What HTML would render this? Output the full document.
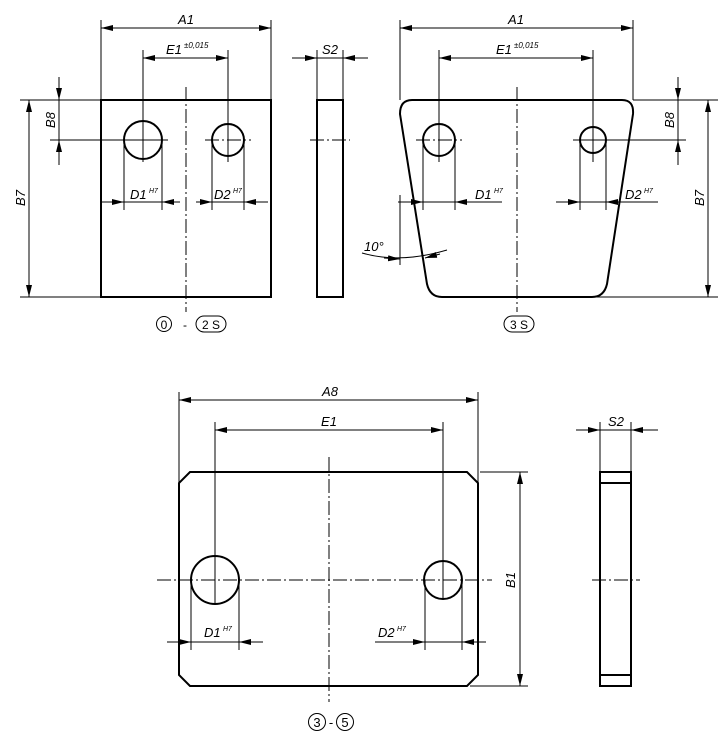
<!DOCTYPE html>
<html><head><meta charset="utf-8"><style>
html,body{margin:0;padding:0;background:#fff}
svg{display:block}
text{font-family:"Liberation Sans",sans-serif;font-style:italic;fill:#000}
.o{stroke:#000;stroke-width:2;fill:none}
.t{stroke:#000;stroke-width:1;fill:none}
.c{stroke:#000;stroke-width:1;fill:none;stroke-dasharray:14 3 2 3}
.n{font-style:normal}
</style></head><body>
<svg width="727" height="750" viewBox="0 0 727 750" xmlns="http://www.w3.org/2000/svg">
<defs>
<marker id="a" viewBox="0 0 12 6" refX="12" refY="3" markerWidth="12" markerHeight="6" markerUnits="userSpaceOnUse" orient="auto-start-reverse"><path d="M0,0 L12,3 L0,6 z" fill="#000"/></marker>
</defs>

<!-- ===== View 1 ===== -->
<rect x="101" y="100" width="170" height="197" class="o"/>
<circle cx="143" cy="140" r="19" class="o"/>
<circle cx="228" cy="140" r="16" class="o"/>
<line x1="186" y1="87" x2="186" y2="312" class="c"/>
<line x1="50" y1="140" x2="168" y2="140" class="t"/>
<line x1="205" y1="140" x2="251" y2="140" class="c"/>
<line x1="143" y1="50" x2="143" y2="162" class="t"/>
<line x1="228" y1="50" x2="228" y2="162" class="t"/>
<!-- A1 -->
<line x1="101" y1="20" x2="101" y2="100" class="t"/>
<line x1="271" y1="20" x2="271" y2="100" class="t"/>
<line x1="101" y1="28" x2="271" y2="28" class="t" marker-start="url(#a)" marker-end="url(#a)"/>
<text x="186" y="24" font-size="13" text-anchor="middle">A1</text>
<!-- E1 -->
<line x1="143" y1="58" x2="228" y2="58" class="t" marker-start="url(#a)" marker-end="url(#a)"/>
<text x="166" y="54" font-size="13">E1</text><text x="184" y="48" font-size="8">±0,015</text>
<!-- D1 D2 -->
<line x1="124" y1="140" x2="124" y2="210" class="t"/>
<line x1="162" y1="140" x2="162" y2="210" class="t"/>
<line x1="212" y1="140" x2="212" y2="210" class="t"/>
<line x1="244" y1="140" x2="244" y2="210" class="t"/>
<line x1="101" y1="202" x2="124" y2="202" class="t" marker-end="url(#a)"/>
<line x1="124" y1="202" x2="162" y2="202" class="t"/>
<line x1="180" y1="202" x2="162" y2="202" class="t" marker-end="url(#a)"/>
<line x1="196" y1="202" x2="212" y2="202" class="t" marker-end="url(#a)"/>
<line x1="212" y1="202" x2="244" y2="202" class="t"/>
<line x1="268" y1="202" x2="244" y2="202" class="t" marker-end="url(#a)"/>
<text x="130" y="199" font-size="13">D1</text><text x="149" y="193" font-size="7">H7</text>
<text x="214" y="199" font-size="13">D2</text><text x="233" y="193" font-size="7">H7</text>
<!-- B7 B8 -->
<line x1="20" y1="100" x2="101" y2="100" class="t"/>
<line x1="20" y1="297" x2="101" y2="297" class="t"/>
<line x1="29" y1="100" x2="29" y2="297" class="t" marker-start="url(#a)" marker-end="url(#a)"/>
<text transform="translate(25,198) rotate(-90)" font-size="13" text-anchor="middle">B7</text>
<line x1="59" y1="77" x2="59" y2="100" class="t" marker-end="url(#a)"/>
<line x1="59" y1="100" x2="59" y2="140" class="t"/>
<line x1="59" y1="165" x2="59" y2="140" class="t" marker-end="url(#a)"/>
<text transform="translate(55,120) rotate(-90)" font-size="13" text-anchor="middle">B8</text>

<!-- side view 1 -->
<rect x="317" y="100" width="26" height="197" class="o"/>
<line x1="310" y1="140" x2="350" y2="140" class="c"/>
<line x1="317" y1="50" x2="317" y2="100" class="t"/>
<line x1="343" y1="50" x2="343" y2="100" class="t"/>
<line x1="292" y1="58" x2="317" y2="58" class="t" marker-end="url(#a)"/>
<line x1="317" y1="58" x2="343" y2="58" class="t"/>
<line x1="368" y1="58" x2="343" y2="58" class="t" marker-end="url(#a)"/>
<text x="330" y="54" font-size="13" text-anchor="middle">S2</text>

<!-- labels -->
<circle cx="164" cy="324" r="7.5" class="t"/>
<text x="164" y="329" font-size="12" class="n" text-anchor="middle">0</text>
<text x="185" y="329" font-size="12" class="n" text-anchor="middle">-</text>
<rect x="196" y="316" width="30" height="16" rx="8" class="t"/>
<text x="211" y="329" font-size="12" class="n" text-anchor="middle">2 S</text>
<rect x="504" y="316" width="30" height="16" rx="8" class="t"/>
<text x="519" y="329" font-size="12" class="n" text-anchor="middle">3 S</text>

<!-- ===== View 3S ===== -->
<path d="M412,100 L622,100 Q634,100 633,114 L607,284 Q604,297 592,297 L442,297 Q430,297 427,284 L400,114 Q400,100 412,100 Z" class="o"/>
<circle cx="439" cy="140" r="16" class="o"/>
<circle cx="593" cy="140" r="13" class="o"/>
<line x1="517" y1="87" x2="517" y2="312" class="c"/>
<line x1="416" y1="140" x2="462" y2="140" class="c"/>
<line x1="573" y1="140" x2="686" y2="140" class="t"/>
<line x1="439" y1="50" x2="439" y2="162" class="t"/>
<line x1="593" y1="50" x2="593" y2="162" class="t"/>
<line x1="400" y1="20" x2="400" y2="100" class="t"/>
<line x1="633" y1="20" x2="633" y2="100" class="t"/>
<line x1="400" y1="28" x2="633" y2="28" class="t" marker-start="url(#a)" marker-end="url(#a)"/>
<text x="516" y="24" font-size="13" text-anchor="middle">A1</text>
<line x1="439" y1="58" x2="593" y2="58" class="t" marker-start="url(#a)" marker-end="url(#a)"/>
<text x="496" y="54" font-size="13">E1</text><text x="514" y="48" font-size="8">±0,015</text>
<!-- D1 D2 -->
<line x1="423" y1="140" x2="423" y2="210" class="t"/>
<line x1="455" y1="140" x2="455" y2="210" class="t"/>
<line x1="580" y1="140" x2="580" y2="210" class="t"/>
<line x1="606" y1="140" x2="606" y2="210" class="t"/>
<line x1="398" y1="202" x2="423" y2="202" class="t" marker-end="url(#a)"/>
<line x1="423" y1="202" x2="455" y2="202" class="t"/>
<line x1="502" y1="202" x2="455" y2="202" class="t" marker-end="url(#a)"/>
<line x1="556" y1="202" x2="580" y2="202" class="t" marker-end="url(#a)"/>
<line x1="580" y1="202" x2="606" y2="202" class="t"/>
<line x1="658" y1="202" x2="606" y2="202" class="t" marker-end="url(#a)"/>
<text x="475" y="199" font-size="13">D1</text><text x="494" y="193" font-size="7">H7</text>
<text x="625" y="199" font-size="13">D2</text><text x="644" y="193" font-size="7">H7</text>
<!-- B7 B8 -->
<line x1="633" y1="100" x2="718" y2="100" class="t"/>
<line x1="592" y1="297" x2="718" y2="297" class="t"/>
<line x1="708" y1="100" x2="708" y2="297" class="t" marker-start="url(#a)" marker-end="url(#a)"/>
<text transform="translate(704,198) rotate(-90)" font-size="13" text-anchor="middle">B7</text>
<line x1="678" y1="77" x2="678" y2="100" class="t" marker-end="url(#a)"/>
<line x1="678" y1="100" x2="678" y2="140" class="t"/>
<line x1="678" y1="165" x2="678" y2="140" class="t" marker-end="url(#a)"/>
<text transform="translate(674,120) rotate(-90)" font-size="13" text-anchor="middle">B8</text>
<!-- 10 deg -->
<line x1="400" y1="195" x2="400" y2="265" class="t"/>
<path d="M362,253 Q400,264 447,250" class="t"/>
<line x1="384" y1="258" x2="400" y2="259" class="t" marker-end="url(#a)"/>
<line x1="440" y1="254" x2="425" y2="258" class="t" marker-end="url(#a)"/>
<text x="364" y="251" font-size="13">10°</text>

<!-- ===== Bottom view ===== -->
<path d="M190,472 L467,472 L478,483 L478,675 L467,686 L190,686 L179,675 L179,483 Z" class="o"/>
<circle cx="215" cy="580" r="24" class="o"/>
<circle cx="443" cy="580" r="19" class="o"/>
<line x1="157" y1="580" x2="492" y2="580" class="c"/>
<line x1="329" y1="457" x2="329" y2="702" class="c"/>
<line x1="215" y1="422" x2="215" y2="604" class="t"/>
<line x1="443" y1="422" x2="443" y2="599" class="t"/>
<line x1="179" y1="392" x2="179" y2="483" class="t"/>
<line x1="478" y1="392" x2="478" y2="483" class="t"/>
<line x1="179" y1="400" x2="478" y2="400" class="t" marker-start="url(#a)" marker-end="url(#a)"/>
<text x="330" y="396" font-size="13" text-anchor="middle">A8</text>
<line x1="215" y1="430" x2="443" y2="430" class="t" marker-start="url(#a)" marker-end="url(#a)"/>
<text x="329" y="426" font-size="13" text-anchor="middle">E1</text>
<!-- D1 D2 -->
<line x1="191" y1="580" x2="191" y2="650" class="t"/>
<line x1="239" y1="580" x2="239" y2="650" class="t"/>
<line x1="425" y1="580" x2="425" y2="650" class="t"/>
<line x1="462" y1="580" x2="462" y2="650" class="t"/>
<line x1="167" y1="642" x2="191" y2="642" class="t" marker-end="url(#a)"/>
<line x1="191" y1="642" x2="239" y2="642" class="t"/>
<line x1="263" y1="642" x2="239" y2="642" class="t" marker-end="url(#a)"/>
<line x1="375" y1="642" x2="425" y2="642" class="t" marker-end="url(#a)"/>
<line x1="425" y1="642" x2="462" y2="642" class="t"/>
<line x1="486" y1="642" x2="462" y2="642" class="t" marker-end="url(#a)"/>
<text x="204" y="637" font-size="13">D1</text><text x="223" y="631" font-size="7">H7</text>
<text x="378" y="637" font-size="13">D2</text><text x="397" y="631" font-size="7">H7</text>
<!-- B1 -->
<line x1="480" y1="472" x2="528" y2="472" class="t"/>
<line x1="470" y1="686" x2="528" y2="686" class="t"/>
<line x1="520" y1="472" x2="520" y2="686" class="t" marker-start="url(#a)" marker-end="url(#a)"/>
<text transform="translate(515,580) rotate(-90)" font-size="13" text-anchor="middle">B1</text>

<!-- side view 2 -->
<rect x="600" y="472" width="31" height="214" class="o"/>
<line x1="600" y1="483" x2="631" y2="483" class="o"/>
<line x1="600" y1="675" x2="631" y2="675" class="o"/>
<line x1="592" y1="580" x2="640" y2="580" class="c"/>
<line x1="600" y1="422" x2="600" y2="472" class="t"/>
<line x1="631" y1="422" x2="631" y2="472" class="t"/>
<line x1="576" y1="430" x2="600" y2="430" class="t" marker-end="url(#a)"/>
<line x1="600" y1="430" x2="631" y2="430" class="t"/>
<line x1="658" y1="430" x2="631" y2="430" class="t" marker-end="url(#a)"/>
<text x="616" y="426" font-size="13" text-anchor="middle">S2</text>

<circle cx="317" cy="722" r="8.5" class="t"/>
<text x="317" y="727" font-size="13" class="n" text-anchor="middle">3</text>
<text x="331" y="727" font-size="13" class="n" text-anchor="middle">-</text>
<circle cx="345" cy="722" r="8.5" class="t"/>
<text x="345" y="727" font-size="13" class="n" text-anchor="middle">5</text>
</svg>
</body></html>
